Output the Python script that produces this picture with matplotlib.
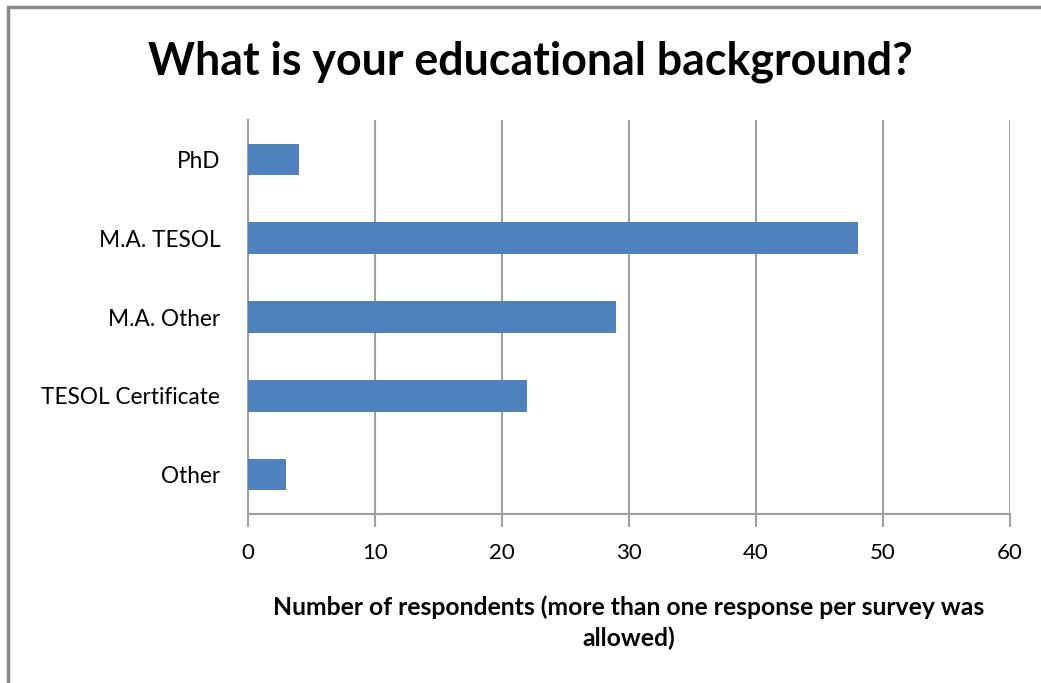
import matplotlib.pyplot as plt
from matplotlib.patches import Rectangle

categories = ["Other", "TESOL Certificate", "M.A. Other", "M.A. TESOL", "PhD"]
respondents = [3, 22, 29, 48, 4]
x_ticks = [0, 10, 20, 30, 40, 50, 60]

plt.rcParams['font.family'] = ['Lato', 'DejaVu Sans']

fig = plt.figure(figsize=(10.41, 6.83), dpi=100)
ax = fig.add_axes([0.2382, 0.2474, 0.732, 0.5769])

ax.barh(range(len(categories)), respondents, height=0.4, color='#4F81BD', zorder=3)
ax.set_xlim(0, 60)
ax.set_ylim(-0.5, len(categories) - 0.5)
ax.set_xticks(x_ticks)
ax.set_yticks(range(len(categories)))
ax.set_yticklabels(categories)

ax.grid(axis='x', color='#A0A0A0', linewidth=1.5, zorder=0)
for s in ['top', 'right']:
    ax.spines[s].set_visible(False)
for s in ['left', 'bottom']:
    ax.spines[s].set_color('#A0A0A0')
    ax.spines[s].set_linewidth(1.5)
ax.tick_params(axis='x', length=9, width=1.5, color='#A0A0A0', labelsize=16, pad=12)
ax.tick_params(axis='y', length=0, labelsize=16.3, pad=20)

ax.set_xlabel("Number of respondents (more than one response per survey was\nallowed)",
              fontsize=17.8, fontweight='bold', labelpad=23, linespacing=1.4)
fig.text(530 / 1041, 1 - 62 / 683, "What is your educational background?",
         fontsize=32.2, fontweight='bold', ha='center', va='center')

# chart frame
fig.add_artist(Rectangle((8 / 1041, -0.1), 1.2, 1 - 7 / 683 + 0.1, transform=fig.transFigure,
                         fill=False, edgecolor='#888888', linewidth=2.5))

fig.savefig("out.png", dpi=100)
